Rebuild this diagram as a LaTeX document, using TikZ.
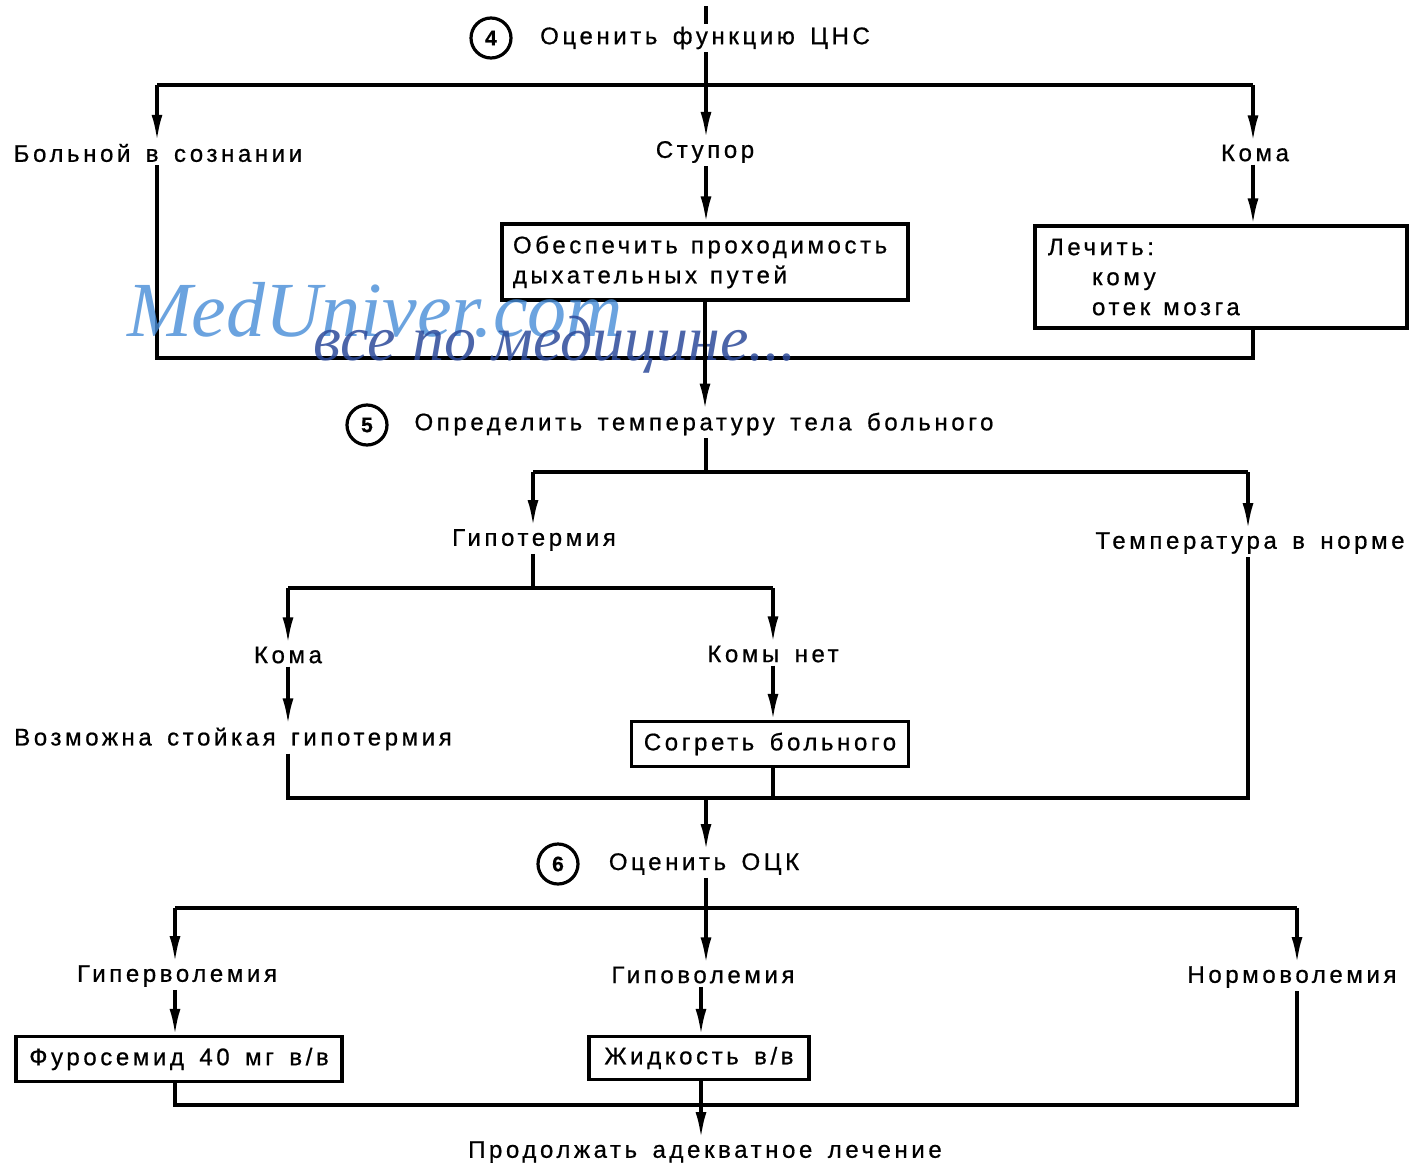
\documentclass[tikz,border=0pt]{standalone}
\usepackage{fontspec}
\setmainfont{Liberation Sans}[LetterSpace=15,WordSpace=1.5,FakeBold=0.7]
\newfontfamily\wmfont{Liberation Serif}[ItalicFont=*-Italic]
\usetikzlibrary{arrows.meta}
\definecolor{wmlight}{RGB}{70,140,215}
\definecolor{wmdark}{RGB}{45,75,155}
\newcommand\wsp{\hspace*{13pt}}
\begin{document}
\begin{tikzpicture}[x=1pt,y=-1pt,
  lbl/.style={font=\fontsize{24}{30}\selectfont, inner sep=3pt},
  boxnode/.style={draw, line width=3.2pt, font=\fontsize{24}{30}\selectfont, inner sep=0pt, align=left},
  numc/.style={draw, circle, line width=3.2pt, minimum size=40pt, inner sep=0pt, font=\bfseries\fontsize{21}{24}\selectfont},
  ln/.style={line width=3.2pt},
  arr/.style={ln, -{Latex[length=26pt,width=11pt]}},
]
\useasboundingbox (0,0) rectangle (1412,1167);
\fill[white] (0,0) rectangle (1412,1167);

% ---- step 4
\node[numc] (c4) at (491,38) {4};
\node[lbl] (t4) at (705,38) {Оценить функцию ЦНС};
\coordinate (top) at (706,6);
\draw[ln] (top) -- (top |- t4.north);
\coordinate (f4L) at (157,85);
\coordinate (f4C) at (706,85);
\coordinate (f4R) at (1253,85);
\node[lbl] (conscious) at (158,153) {Больной в сознании};
\node[lbl] (stupor) at (705,152) {Ступор};
\node[lbl] (coma1) at (1255,153) {Кома};
\draw[ln] (f4L) -- (f4R);
\draw[arr] (f4C |- t4.south) -- (f4C |- stupor.north);
\draw[arr] (f4L) -- (f4L |- conscious.north);
\draw[arr] (f4R) -- (f4R |- coma1.north);

\node[boxnode, minimum width=406pt, minimum height=76pt, text width=384pt] (box1) at (705,262)
  {Обеспечить\wsp проходимость\\дыхательных\wsp путей};
\node[boxnode, minimum width=372pt, minimum height=102pt, text width=346pt] (box2) at (1221,277)
  {Лечить:\\\hspace*{44pt}кому\\\hspace*{44pt}отек\wsp мозга};
\draw[arr] (f4C |- stupor.south) -- (f4C |- box1.north);
\draw[arr] (f4R |- coma1.south) -- (f4R |- box2.north);

\coordinate (j1L) at (157,358);
\coordinate (j1R) at (1253,358);
\draw[ln] (j1L |- conscious.south) -- (j1L) -- (j1R) -- (j1R |- box2.south);

% watermark
\node[font=\wmfont\itshape\fontsize{78}{80}\selectfont, text=wmlight, opacity=0.8, inner sep=0pt, anchor=base] (wm1) at (375,336) {MedUniver.com};
\node[font=\wmfont\itshape\fontsize{64}{66}\selectfont, text=wmdark, opacity=0.85, inner sep=0pt, anchor=base] (wm2) at (555,360) {все по медицине...};

% ---- step 5
\node[numc] (c5) at (367,425) {5};
\node[lbl] (t5) at (704,424) {Определить температуру тела больного};
\draw[arr] (box1.south) -- (box1.south |- t5.north);
\coordinate (f5L) at (533,472);
\coordinate (f5C) at (706,472);
\coordinate (f5R) at (1248,472);
\draw[ln] (f5C |- t5.south) -- (f5C);
\draw[ln] (f5L) -- (f5R);
\node[lbl] (hypo) at (534,540) {Гипотермия};
\node[lbl] (normT) at (1250,543) {Температура в норме};
\draw[arr] (f5L) -- (f5L |- hypo.north);
\draw[arr] (f5R) -- (f5R |- normT.north);

\coordinate (f6L) at (288,588);
\coordinate (f6C) at (533,588);
\coordinate (f6R) at (773,588);
\draw[ln] (f6C |- hypo.south) -- (f6C);
\draw[ln] (f6L) -- (f6R);
\node[lbl] (coma2) at (288,655) {Кома};
\node[lbl] (nocoma) at (773,654) {Комы нет};
\draw[arr] (f6L) -- (f6L |- coma2.north);
\draw[arr] (f6R) -- (f6R |- nocoma.north);
\node[lbl] (persist) at (233,739) {Возможна стойкая гипотермия};
\draw[arr] (f6L |- coma2.south) -- (f6L |- persist.north);
\node[boxnode, minimum width=277pt, minimum height=45pt] (box3) at (770,744) {Согреть больного};
\draw[arr] (f6R |- nocoma.south) -- (f6R |- box3.north);

\coordinate (j2L) at (288,798);
\coordinate (j2C) at (706,798);
\coordinate (j2R) at (1248,798);
\draw[ln] (j2L |- persist.south) -- (j2L) -- (j2R) -- (j2R |- normT.south);
\draw[ln] (f6R |- box3.south) -- (f6R |- j2L);

% ---- step 6
\node[numc] (c6) at (558,864) {6};
\node[lbl] (t6) at (704,864) {Оценить ОЦК};
\draw[arr] (j2C) -- (j2C |- t6.north);
\coordinate (f7L) at (175,908);
\coordinate (f7C) at (706,908);
\coordinate (f7R) at (1297,908);
\draw[ln] (f7C |- t6.south) -- (f7C);
\draw[ln] (f7L) -- (f7R);
\node[lbl] (hyper) at (177,976) {Гиперволемия};
\node[lbl] (hypov) at (703,975) {Гиповолемия};
\node[lbl] (normv) at (1292,977) {Нормоволемия};
\draw[arr] (f7L) -- (f7L |- hyper.north);
\draw[arr] (f7C) -- (f7C |- hypov.north);
\draw[arr] (f7R) -- (f7R |- normv.north);

\node[boxnode, minimum width=326pt, minimum height=45pt] (box4) at (179,1059) {Фуросемид 40 мг в/в};
\node[boxnode, minimum width=220pt, minimum height=43pt] (box5) at (699,1058) {Жидкость в/в};
\coordinate (j3L) at (175,1105);
\coordinate (j3C) at (701,1105);
\coordinate (j3R) at (1297,1105);
\draw[arr] (j3L |- hyper.south) -- (j3L |- box4.north);
\draw[arr] (j3C |- hypov.south) -- (j3C |- box5.north);
\draw[ln] (j3L |- box4.south) -- (j3L) -- (j3R) -- (j3R |- normv.south);
\node[lbl] (final) at (705,1152) {Продолжать адекватное лечение};
\draw[arr] (j3C |- box5.south) -- (j3C |- final.north);
\end{tikzpicture}
\end{document}
